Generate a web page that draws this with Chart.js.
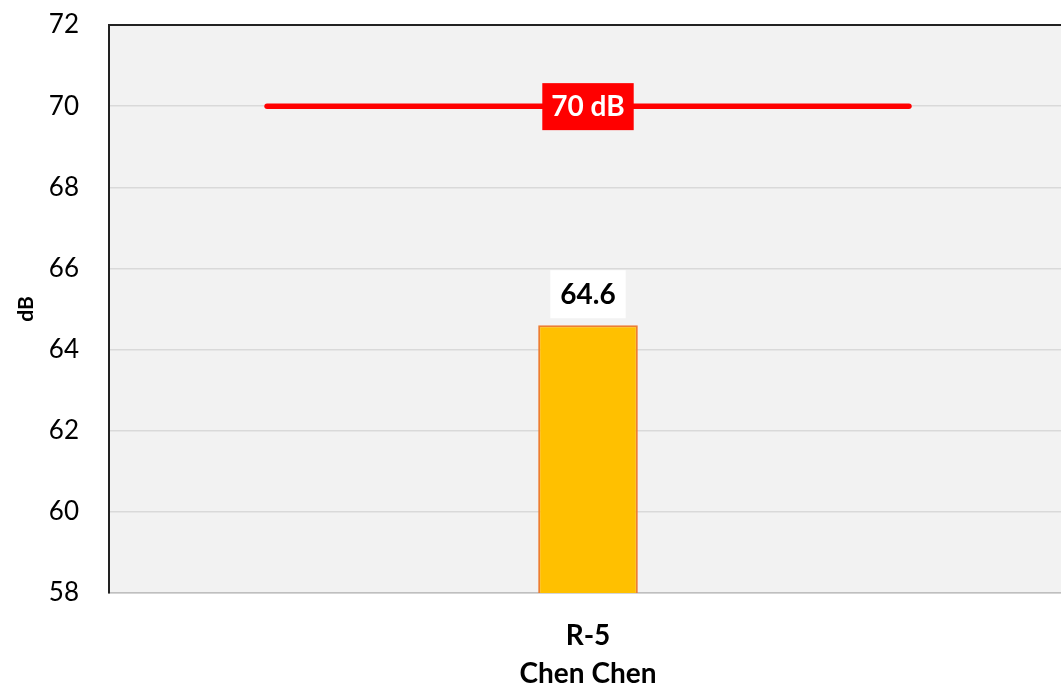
<!DOCTYPE html>
<html lang="en">
<head>
<meta charset="utf-8">
<title>Noise level R-5</title>
<script src="https://cdn.jsdelivr.net/npm/chart.js@4.4.0/dist/chart.umd.min.js"></script>
<style>
    html, body { margin: 0; padding: 0; background: #fff; overflow: hidden; }
    #wrap { width: 1067px; height: 687px; }
</style>
</head>
<body>
<div id="wrap"><canvas id="noiseChart"></canvas></div>
<script>
    // station, measured level and the limit line
    const stations = [['R-5', 'Chen Chen']];
    const levels = [64.6];
    const limitLevel = 70;
    const limitLabel = '70 dB';
    const limitSpan = [0.165, 0.835];   // along the hidden 0..1 axis
    const yTicks = [58, 60, 62, 64, 66, 68, 70, 72];

    const FONT = 'Lato, "Liberation Sans", sans-serif';

    // grey plot background plus the dark top edge
    const plotBg = {
        id: 'plotBg',
        beforeDraw(chart) {
            const a = chart.chartArea, ctx = chart.ctx;
            ctx.save();
            ctx.fillStyle = '#F2F2F2';
            ctx.fillRect(a.left, a.top, a.right - a.left, a.bottom - a.top);
            ctx.restore();
        },
        afterDraw(chart) {
            const a = chart.chartArea, ctx = chart.ctx;
            ctx.save();
            ctx.strokeStyle = '#222';
            ctx.lineWidth = 2;
            ctx.beginPath();
            ctx.moveTo(a.left - 1, a.top);
            ctx.lineTo(a.right, a.top);
            ctx.stroke();
            ctx.restore();
        }
    };

    // boxed value labels
    const boxLabels = {
        id: 'boxLabels',
        afterDatasetsDraw(chart) {
            const ctx = chart.ctx;
            const y = chart.scales.y;
            ctx.save();
            ctx.font = 'bold 28px ' + FONT;
            ctx.textAlign = 'center';
            ctx.textBaseline = 'middle';

            // bar value
            const bar = chart.getDatasetMeta(0).data[0];
            const txt = levels[0].toFixed(1);
            const w = ctx.measureText(txt).width + 20;
            const h = 48;
            const cy = bar.y - 7 - h / 2;
            ctx.fillStyle = '#FFFFFF';
            ctx.fillRect(bar.x - w / 2, cy - h / 2, w, h);
            ctx.fillStyle = '#000000';
            ctx.fillText(txt, bar.x, cy + 1);

            // limit value
            const x2 = chart.scales.x2;
            const lx = x2.getPixelForValue((limitSpan[0] + limitSpan[1]) / 2);
            const ly = y.getPixelForValue(limitLevel);
            const lw = ctx.measureText(limitLabel).width + 18;
            ctx.fillStyle = '#FF0000';
            ctx.fillRect(lx - lw / 2, ly - 23, lw, 47);
            ctx.fillStyle = '#FFFFFF';
            ctx.fillText(limitLabel, lx, ly + 1);
            ctx.restore();
        }
    };

    new Chart(document.getElementById('noiseChart'), {
        type: 'bar',
        data: {
            labels: stations,
            datasets: [{
                type: 'bar',
                data: levels,
                backgroundColor: '#FFC000',
                borderColor: '#ED7D31',
                borderWidth: 2,
                categoryPercentage: 1,
                barPercentage: 0.104,
                grouped: false,
                xAxisID: 'x',
                order: 2
            }, {
                type: 'line',
                data: limitSpan.map(v => ({ x: v, y: limitLevel })),
                borderColor: '#FF0000',
                borderWidth: 5.5,
                borderCapStyle: 'round',
                pointRadius: 0,
                xAxisID: 'x2',
                order: 1
            }]
        },
        options: {
            responsive: true,
            maintainAspectRatio: false,
            animation: false,
            layout: { padding: { top: 25, right: 0, bottom: 0, left: 0 } },
            plugins: {
                legend: { display: false },
                tooltip: { enabled: false }
            },
            scales: {
                x: {
                    type: 'category',
                    position: 'bottom',
                    grid: { display: false },
                    border: { color: '#BFBFBF', width: 1.5 },
                    ticks: {
                        color: '#000',
                        font: { family: FONT, size: 28, weight: 'bold', lineHeight: 1.35 },
                        padding: 16,
                        maxRotation: 0
                    },
                    afterFit(s) {
                        s.height = 94;
                        s.paddingTop = 0;
                        s.paddingBottom = 0;
                    }
                },
                x2: {
                    type: 'linear',
                    display: false,
                    offset: false,
                    min: 0,
                    max: 1
                },
                y: {
                    min: 58,
                    max: 72,
                    afterBuildTicks(s) { s.ticks = yTicks.map(v => ({ value: v })); },
                    grid: { color: '#D9D9D9', lineWidth: 1.5, drawTicks: false },
                    border: { color: '#222', width: 2 },
                    ticks: {
                        color: '#000',
                        font: { family: FONT, size: 26 },
                        padding: 30
                    },
                    title: {
                        display: true,
                        text: 'dB',
                        color: '#000',
                        font: { family: FONT, size: 21, weight: 'bold' },
                        padding: { top: 14, bottom: 0 }
                    },
                    afterFit(s) {
                        s.width = 109;
                        s.paddingTop = 0;
                        s.paddingBottom = 0;
                    }
                }
            }
        },
        plugins: [plotBg, boxLabels]
    });
</script>
</body>
</html>
